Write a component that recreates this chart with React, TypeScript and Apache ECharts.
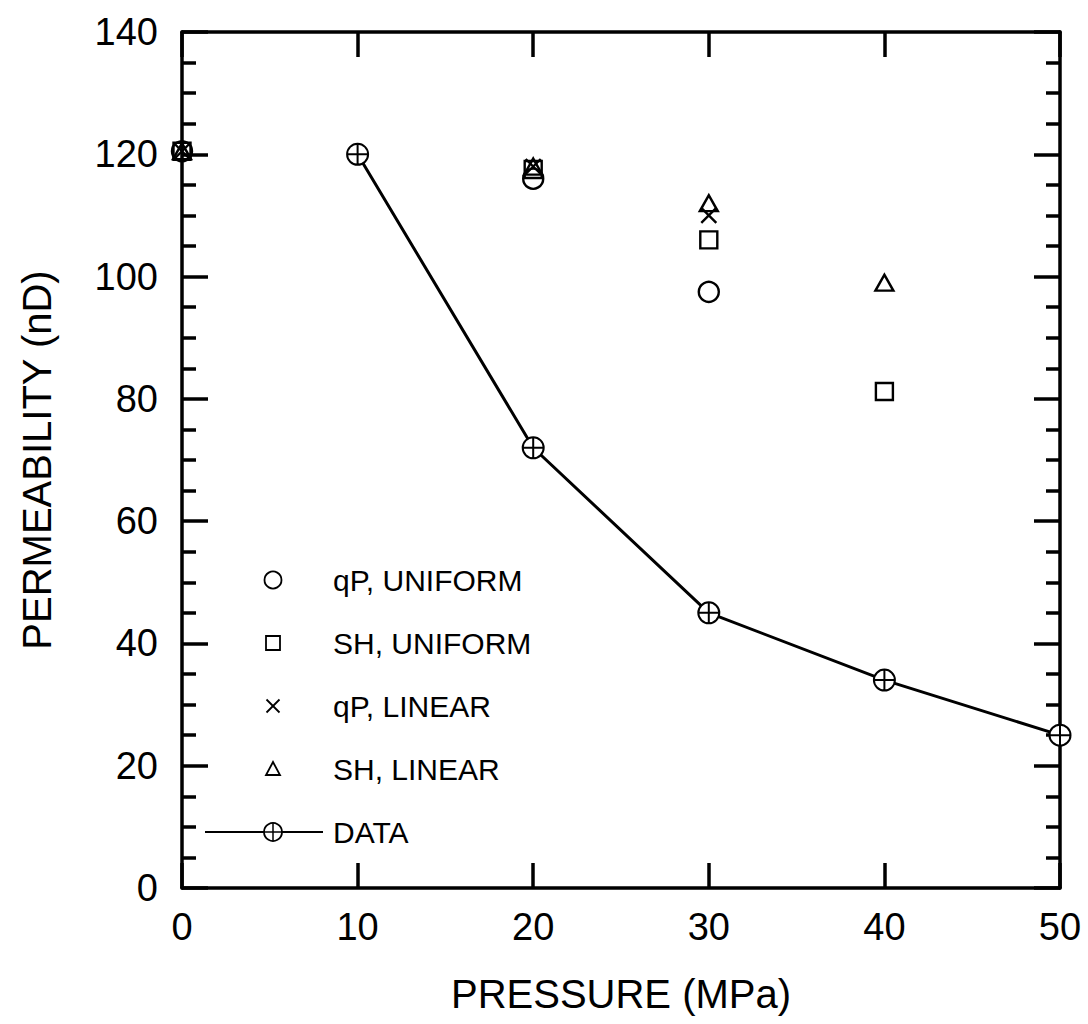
import React, { useEffect, useRef } from "react";
import * as echarts from "echarts";

// ---- Data ----
const dataPressure = [10, 20, 30, 40, 50];
const dataPerm = [120, 72, 45, 34, 25];

const qpUniformX = [0, 20, 30];
const qpUniformY = [120.5, 116, 97.5];

const shUniformX = [0, 20, 30, 40];
const shUniformY = [120.5, 117.5, 106, 81.2];

const qpLinearX = [0, 20, 30];
const qpLinearY = [120.5, 118, 110];

const shLinearX = [0, 20, 30, 40];
const shLinearY = [120.5, 118, 112, 99];

const legendLabels = ["qP, UNIFORM", "SH, UNIFORM", "qP, LINEAR", "SH, LINEAR", "DATA"];

const xName = "PRESSURE (MPa)";
const yName = "PERMEABILITY (nD)";

const FONT = "'Liberation Sans', Arial, Helvetica, sans-serif";

const pair = (xs: number[], ys: number[]) => xs.map((x, i) => [x, ys[i]]);

const CROSS_CIRCLE =
  "path://M10,0 A10,10 0 1,1 10,20 A10,10 0 1,1 10,0 Z M0,10 L20,10 M10,0 L10,20";
const X_MARK = "path://M0,0 L20,20 M20,0 L0,20";

export default function App() {
  const ref = useRef<HTMLDivElement>(null);

  useEffect(() => {
    document.body.style.margin = "0";
    if (!ref.current) return;
    const chart = echarts.init(ref.current, null, { renderer: "svg" });

    const axisLine = { show: true, onZero: false, lineStyle: { color: "#000", width: 3.5 } };
    const labelStyle = { color: "#000", fontSize: 38, fontFamily: FONT };
    const tickStyle = { color: "#000", width: 3.5 };
    const markerStyle = {
      color: "rgba(255,255,255,0)",
      borderColor: "#000",
      borderWidth: 2.4,
      opacity: 1,
    };

    // legend graphics
    const legX = 273;
    const textX = 333;
    const rowY = [580, 643, 706, 769, 832];
    const stroke = { stroke: "#000", lineWidth: 1.8, fill: "#fff" };
    const legendGraphics: any[] = [
      { type: "circle", shape: { cx: legX, cy: rowY[0], r: 8.5 }, style: stroke },
      { type: "rect", shape: { x: legX - 7, y: rowY[1] - 7, width: 14, height: 14 }, style: stroke },
      { type: "line", shape: { x1: legX - 6.5, y1: rowY[2] - 6.5, x2: legX + 6.5, y2: rowY[2] + 6.5 }, style: { stroke: "#000", lineWidth: 1.8 } },
      { type: "line", shape: { x1: legX + 6.5, y1: rowY[2] - 6.5, x2: legX - 6.5, y2: rowY[2] + 6.5 }, style: { stroke: "#000", lineWidth: 1.8 } },
      { type: "polygon", shape: { points: [[legX, rowY[3] - 7], [legX + 7, rowY[3] + 6], [legX - 7, rowY[3] + 6]] }, style: stroke },
      { type: "line", shape: { x1: 205, y1: rowY[4], x2: 323, y2: rowY[4] }, style: { stroke: "#000", lineWidth: 1.8 } },
      { type: "circle", shape: { cx: legX, cy: rowY[4], r: 9 }, style: stroke },
      { type: "line", shape: { x1: legX - 9, y1: rowY[4], x2: legX + 9, y2: rowY[4] }, style: { stroke: "#000", lineWidth: 1.5 } },
      { type: "line", shape: { x1: legX, y1: rowY[4] - 9, x2: legX, y2: rowY[4] + 9 }, style: { stroke: "#000", lineWidth: 1.5 } },
      ...legendLabels.map((t, i) => ({
        type: "text",
        x: textX,
        y: rowY[i],
        style: {
          text: t,
          fill: "#000",
          font: `30px ${FONT}`,
          verticalAlign: "middle",
          align: "left",
        },
      })),
    ];

    chart.setOption({
      animation: false,
      backgroundColor: "#fff",
      grid: { left: 182, right: 28, top: 32, bottom: 136, containLabel: false },
      xAxis: [
        {
          type: "value",
          position: "bottom",
          min: 0,
          max: 50,
          interval: 10,
          name: xName,
          nameLocation: "middle",
          nameGap: 86,
          nameTextStyle: { color: "#000", fontSize: 40, fontFamily: FONT },
          axisLine,
          axisTick: { show: true, inside: true, length: 25, lineStyle: tickStyle },
          axisLabel: { ...labelStyle, margin: 20 },
          splitLine: { show: false },
        },
        {
          type: "value",
          position: "top",
          min: 0,
          max: 50,
          interval: 10,
          axisLine,
          axisTick: { show: true, inside: true, length: 25, lineStyle: tickStyle },
          axisLabel: { show: false },
          splitLine: { show: false },
        },
      ],
      yAxis: [
        {
          type: "value",
          position: "left",
          min: 0,
          max: 140,
          interval: 20,
          name: yName,
          nameLocation: "middle",
          nameGap: 125,
          nameRotate: 90,
          nameTextStyle: { color: "#000", fontSize: 40, fontFamily: FONT },
          axisLine,
          axisTick: { show: true, inside: true, length: 26, lineStyle: tickStyle },
          minorTick: { show: true, splitNumber: 4, length: 14, lineStyle: tickStyle },
          axisLabel: { ...labelStyle, margin: 24 },
          splitLine: { show: false },
          minorSplitLine: { show: false },
        },
        {
          type: "value",
          position: "right",
          min: 0,
          max: 140,
          interval: 20,
          axisLine,
          axisTick: { show: true, inside: true, length: 26, lineStyle: tickStyle },
          minorTick: { show: true, splitNumber: 4, length: 14, lineStyle: tickStyle },
          axisLabel: { show: false },
          splitLine: { show: false },
          minorSplitLine: { show: false },
        },
      ],
      series: [
        {
          name: legendLabels[4],
          type: "line",
          data: pair(dataPressure, dataPerm),
          symbol: CROSS_CIRCLE,
          symbolSize: 21,
          lineStyle: { color: "#000", width: 3 },
          itemStyle: { color: "#fff", borderColor: "#000", borderWidth: 2, opacity: 1 },
          z: 3,
        },
        {
          name: legendLabels[0],
          type: "scatter",
          data: pair(qpUniformX, qpUniformY),
          symbol: "circle",
          symbolSize: 20,
          itemStyle: markerStyle,
        },
        {
          name: legendLabels[1],
          type: "scatter",
          data: pair(shUniformX, shUniformY),
          symbol: "rect",
          symbolSize: 17,
          itemStyle: markerStyle,
        },
        {
          name: legendLabels[2],
          type: "scatter",
          data: pair(qpLinearX, qpLinearY),
          symbol: X_MARK,
          symbolSize: 15,
          itemStyle: markerStyle,
        },
        {
          name: legendLabels[3],
          type: "scatter",
          data: pair(shLinearX, shLinearY),
          symbol: "triangle",
          symbolSize: [18, 16],
          itemStyle: markerStyle,
        },
      ],
      graphic: legendGraphics,
    });

    return () => chart.dispose();
  }, []);

  return <div ref={ref} style={{ width: 1088, height: 1024 }} />;
}
